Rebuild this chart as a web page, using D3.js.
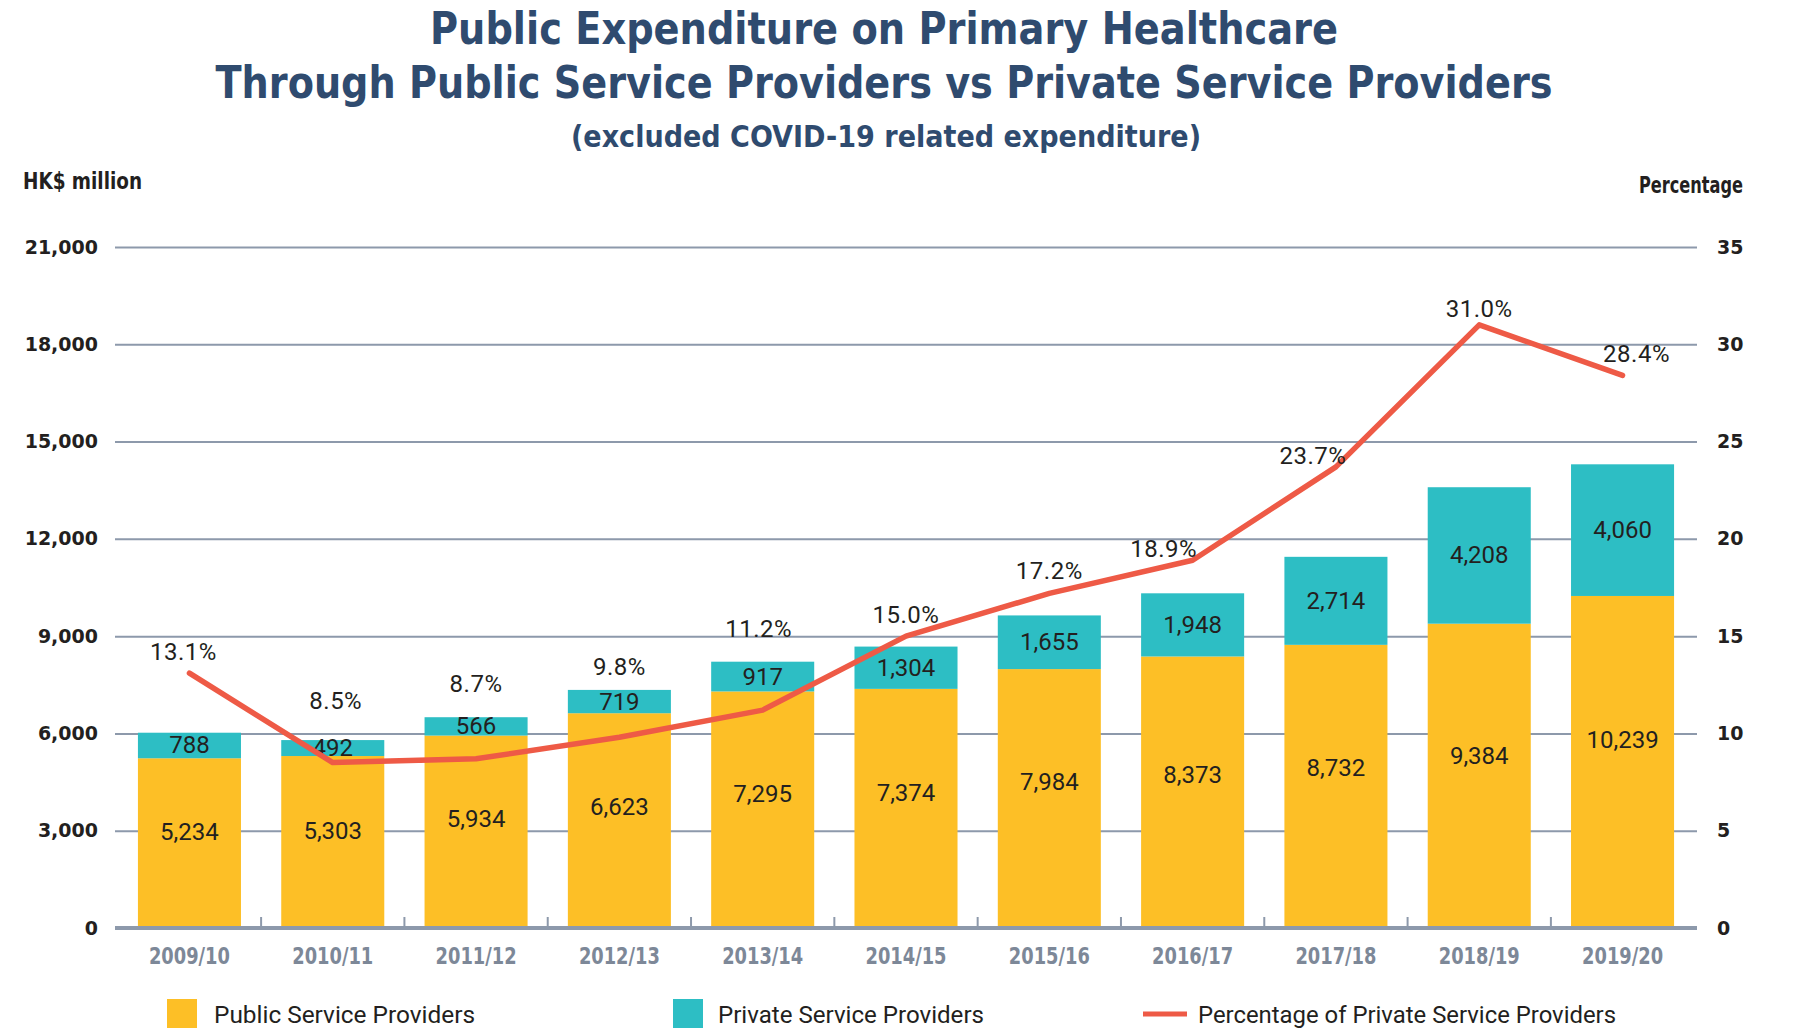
<!DOCTYPE html>
<html>
<head>
<meta charset="utf-8">
<script src="https://cdn.jsdelivr.net/npm/d3@7"></script>
<style>
  html, body { margin: 0; padding: 0; background: #fff; }
  svg { display: block; }
</style>
</head>
<body>
<svg id="chart" width="1800" height="1035"></svg>
<script>
// ---- data ----
const years = ["2009/10","2010/11","2011/12","2012/13","2013/14","2014/15","2015/16","2016/17","2017/18","2018/19","2019/20"];
const publicValues = [5234, 5303, 5934, 6623, 7295, 7374, 7984, 8373, 8732, 9384, 10239];
const privateValues = [788, 492, 566, 719, 917, 1304, 1655, 1948, 2714, 4208, 4060];
const privatePct = [13.1, 8.5, 8.7, 9.8, 11.2, 15.0, 17.2, 18.9, 23.7, 31.0, 28.4];
const leftTicks = [0, 3000, 6000, 9000, 12000, 15000, 18000, 21000];
const rightTicks = [0, 5, 10, 15, 20, 25, 30, 35];
const legendLabels = ["Public Service Providers", "Private Service Providers", "Percentage of Private Service Providers"];

// ---- layout (not data) ----
const pctLabelNudge = { dx: [-6,3,0,0,-4,0,0,-29,-23,0,14], dy: [5,-13,-7,3,-7,5,4,15,15,10,5] };
const C = { yellow: "#FDBF26", teal: "#2DBEC4", red: "#EE5A46", navy: "#2F4B6F", grid: "#8D99AB", xlab: "#7D8898", text: "#231F20" };
const condensed = "'Liberation Sans Narrow', 'DejaVu Sans Condensed', 'Roboto', sans-serif";
const plotL = 115, plotR = 1697, plotT = 247, plotB = 928;

const svg = d3.select("#chart");

const x = d3.scaleBand().domain(years).range([plotL, plotR]).paddingInner(0.281).paddingOuter(0.16);
const y = d3.scaleLinear().domain([0, 21000]).range([plotB, plotT]);
const y2 = d3.scaleLinear().domain([0, 35]).range([plotB, plotT]);
const cx = d => x(d) + x.bandwidth() / 2;

// ---- titles ----
function fitText(sel, len) { sel.attr("textLength", len).attr("lengthAdjust", "spacingAndGlyphs"); }
fitText(svg.append("text").attr("x", 884).attr("y", 44).attr("text-anchor", "middle")
  .attr("font-family", condensed).attr("font-weight", "bold").attr("font-size", 44).attr("fill", C.navy)
  .text("Public Expenditure on Primary Healthcare"), 908);
fitText(svg.append("text").attr("x", 884).attr("y", 98).attr("text-anchor", "middle")
  .attr("font-family", condensed).attr("font-weight", "bold").attr("font-size", 44).attr("fill", C.navy)
  .text("Through Public Service Providers vs Private Service Providers"), 1337);
fitText(svg.append("text").attr("x", 886).attr("y", 147).attr("text-anchor", "middle")
  .attr("font-family", condensed).attr("font-weight", "bold").attr("font-size", 31).attr("fill", C.navy)
  .text("(excluded COVID-19 related expenditure)"), 630);

fitText(svg.append("text").attr("x", 23).attr("y", 189)
  .attr("font-family", condensed).attr("font-weight", "bold").attr("font-size", 23).attr("fill", C.text)
  .text("HK$ million"), 119);
fitText(svg.append("text").attr("x", 1743).attr("y", 193).attr("text-anchor", "end")
  .attr("font-family", condensed).attr("font-weight", "bold").attr("font-size", 23).attr("fill", C.text)
  .text("Percentage"), 104);

// ---- grid + left axis ----
const gL = svg.append("g").attr("transform", `translate(${plotL},0)`)
  .call(d3.axisLeft(y).tickValues(leftTicks).tickSize(-(plotR - plotL)).tickPadding(17).tickFormat(d3.format(",")));
gL.select(".domain").remove();
gL.selectAll(".tick line").attr("stroke", C.grid).attr("stroke-width", 2);
gL.selectAll(".tick text").attr("font-family", "'DejaVu Sans', sans-serif").attr("font-weight", "bold")
  .attr("font-size", 19).attr("fill", C.text);

// ---- right axis ----
const gR = svg.append("g").attr("transform", `translate(${plotR},0)`)
  .call(d3.axisRight(y2).tickValues(rightTicks).tickSize(0).tickPadding(20));
gR.select(".domain").remove();
gR.selectAll(".tick text").attr("font-family", "'DejaVu Sans', sans-serif").attr("font-weight", "bold")
  .attr("font-size", 19).attr("fill", C.text);

// ---- bars ----
const gBars = svg.append("g");
gBars.selectAll("rect.pub").data(years).join("rect").attr("class", "pub")
  .attr("x", d => x(d)).attr("width", x.bandwidth())
  .attr("y", (d, i) => y(publicValues[i])).attr("height", (d, i) => y(0) - y(publicValues[i]))
  .attr("fill", C.yellow);
gBars.selectAll("rect.priv").data(years).join("rect").attr("class", "priv")
  .attr("x", d => x(d)).attr("width", x.bandwidth())
  .attr("y", (d, i) => y(publicValues[i] + privateValues[i]))
  .attr("height", (d, i) => y(publicValues[i]) - y(publicValues[i] + privateValues[i]))
  .attr("fill", C.teal);

// ---- baseline & x axis ----
svg.append("line").attr("x1", plotL).attr("x2", plotR).attr("y1", plotB).attr("y2", plotB)
  .attr("stroke", C.grid).attr("stroke-width", 4);
const gap = x.step() * x.paddingInner();
svg.append("g").selectAll("line").data(years.slice(1)).join("line")
  .attr("x1", d => x(d) - gap / 2).attr("x2", d => x(d) - gap / 2)
  .attr("y1", plotB).attr("y2", plotB - 11).attr("stroke", C.grid).attr("stroke-width", 2);

const gX = svg.append("g").attr("transform", `translate(0,${plotB})`)
  .call(d3.axisBottom(x).tickSize(0));
gX.select(".domain").remove();
gX.selectAll(".tick text").attr("y", 36).attr("dy", 0)
  .attr("font-family", condensed).attr("font-weight", "bold").attr("font-size", 23).attr("fill", C.xlab)
  .attr("textLength", 81).attr("lengthAdjust", "spacingAndGlyphs");

// ---- bar labels ----
const numFont = "Roboto, 'Noto Sans', sans-serif";
svg.append("g").selectAll("text").data(years).join("text")
  .attr("x", d => cx(d)).attr("y", (d, i) => y(publicValues[i] * 0.565))
  .attr("text-anchor", "middle").attr("dominant-baseline", "central")
  .attr("font-family", numFont).attr("font-size", 24).attr("fill", C.text)
  .text((d, i) => d3.format(",")(publicValues[i]));
svg.append("g").selectAll("text").data(years).join("text")
  .attr("x", d => cx(d)).attr("y", (d, i) => y(publicValues[i] + privateValues[i] / 2))
  .attr("text-anchor", "middle").attr("dominant-baseline", "central")
  .attr("font-family", numFont).attr("font-size", 24).attr("fill", C.text)
  .text((d, i) => d3.format(",")(privateValues[i]));

// ---- line ----
const line = d3.line().x((d, i) => cx(years[i])).y(d => y2(d));
svg.append("path").datum(privatePct).attr("d", line)
  .attr("fill", "none").attr("stroke", C.red).attr("stroke-width", 5.5)
  .attr("stroke-linecap", "round").attr("stroke-linejoin", "round");

// ---- percentage labels ----
svg.append("g").selectAll("text").data(privatePct).join("text")
  .attr("x", (d, i) => cx(years[i]) + pctLabelNudge.dx[i])
  .attr("y", (d, i) => Math.min(y2(d), y(publicValues[i] + privateValues[i])) - 26 + pctLabelNudge.dy[i])
  .attr("text-anchor", "middle").attr("dominant-baseline", "central")
  .attr("font-family", numFont).attr("font-size", 24).attr("fill", C.text)
  .attr("letter-spacing", 0.5)
  .text(d => d3.format(".1f")(d) + "%");

// ---- legend ----
const lg = svg.append("g");
lg.append("rect").attr("x", 167).attr("y", 999).attr("width", 30).attr("height", 29).attr("fill", C.yellow);
lg.append("rect").attr("x", 673).attr("y", 999).attr("width", 30).attr("height", 29).attr("fill", C.teal);
lg.append("line").attr("x1", 1143).attr("x2", 1187).attr("y1", 1014).attr("y2", 1014)
  .attr("stroke", C.red).attr("stroke-width", 5);
const legX = [214, 718, 1198];
const legW = [261, 266, 418];
legendLabels.forEach((t, i) => {
  lg.append("text").attr("x", legX[i]).attr("y", 1023)
    .attr("font-family", numFont).attr("font-size", 24).attr("fill", C.text)
    .attr("textLength", legW[i]).attr("lengthAdjust", "spacingAndGlyphs")
    .text(t);
});
</script>
</body>
</html>
